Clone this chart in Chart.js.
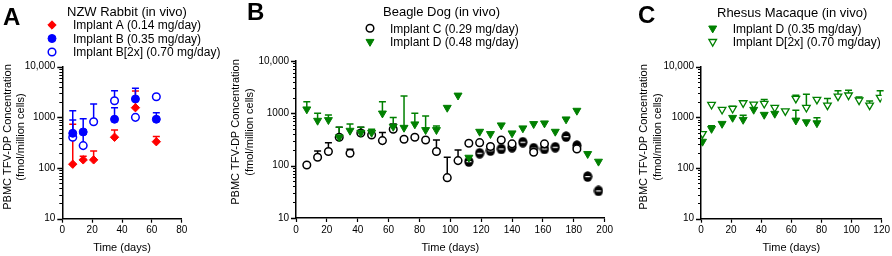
<!DOCTYPE html>
<html>
<head>
<meta charset="utf-8">
<script src="https://cdn.jsdelivr.net/npm/chart.js@4.4.1/dist/chart.umd.min.js"></script>
<style>
html, body { margin: 0; padding: 0; background: #fff; }
#wrap { position: relative; width: 892px; height: 256px; overflow: hidden; }
.panel { position: absolute; top: 0; height: 256px; }
</style>
</head>
<body>
<div id="wrap">
  <div class="panel" style="left:0;width:225px"><canvas id="chartA"></canvas></div>
  <div class="panel" style="left:225px;width:390px"><canvas id="chartB"></canvas></div>
  <div class="panel" style="left:625px;width:267px"><canvas id="chartC"></canvas></div>
</div>
<script>
// ---- Panel A: NZW Rabbit ----
const rabbitDays = [7, 14, 21, 35, 49, 63];
const rabbitA = [119, 145, 145, 405, 1553, 331];
const rabbitAErr = [730, 170, 217, 564, 3300, 417];
const rabbitB = [485, 515, null, 918, 2306, 918];
const rabbitBErr = [1356, 937, null, 1550, 3750, 1240];
const rabbitB2x = [405, 277, 822, 2134, 1000, 2560];
const rabbitB2xErr = [890, 480, 1836, 3365, null, null];

// ---- Panel B: Beagle Dog ----
const dogDays = [7, 14, 21, 28, 35, 42, 49, 56, 63, 70, 77, 84, 91, 98,
                 105, 112, 119, 126, 133, 140, 147, 154, 161, 168, 175, 182, 189, 196];
const dogC = [103, 145, 186, 350, 173, 420, 387, 301, 498, 320, 350, 310, 186, 59,
              125, 268, 275, 232, 310, 261, null, 181, 261, null, null, 209, null, null];
const dogCErr = [null, 191, 275, 540, 206, 540, null, 428, 628, null, null, null, 310, 145,
                 200, null, null, null, null, null, null, null, null, null, null, null, null, null];
// second group of Implant C animals (overlapping circles)
const dogC2 = [null, null, null, null, null, null, null, null, null, null, null, null, null, null,
               null, 120, 173, 194, 209, 225, 281, 216, 209, 225, 359, 242, 62, 33];
const dogD = [1197, 726, 748, 350, 468, 428, 428, 1000, 557, 533, 620, 482, 482, 1285,
              2200, 143, 448, 405, 593, 417, 520, 628, 647, 448, 771, 1128, 168, 120];
const dogDErr = [1670, 1005, 930, 543, 628, 543, 498, 1670, 828, 2150, 1000, 891, 575, null,
                 null, null, null, null, null, null, null, null, null, null, null, null, null, null];

// ---- Panel C: Rhesus Macaque ----
const macDays = [1, 7, 14, 21, 28, 35, 42, 49, 56, 63, 70, 77, 84, 91, 98, 105, 112, 119];
const macD = [333, 596, 750, 986, 900, 1422, 1132, 1186, null, 871, 807, 771,
              null, null, null, null, null, null];
const macDErr = [null, 680, null, null, 1100, null, null, null, null, 1377, null, 986,
                 null, null, null, null, null, null];
const macD2x = [474, 1787, 1422, 1490, 1924, 1811, 1870, 1560, 1333, 2355, 1560, 2250,
                1733, 2613, 2736, 2180, 1733, 2468];
const macD2xErr = [null, null, null, 1650, 2050, null, 2250, null, null, 2736, 2865, null,
                   2355, 3336, 3440, 2535, 2110, 3336];

const yTitleLines = ['PBMC TFV-DP Concentration', '(fmol/million cells)'];
const FONT = 'Arial, "Liberation Sans", sans-serif';
Chart.defaults.font.family = FONT;
Chart.defaults.color = '#000';

const RED = '#ff0000', BLUE = '#0000ff', GREEN = '#008000';

function pts(days, vals) {
    return days.map((d, i) => ({ x: d, y: vals[i] }));
}

// two overlapping open circles look like a black dot with a white slit
function ringPair() {
    const c = document.createElement('canvas');
    c.width = 10; c.height = 11;
    const g = c.getContext('2d');
    g.fillStyle = '#000';
    g.beginPath(); g.ellipse(5, 5.5, 4.6, 5.2, 0, 0, Math.PI * 2); g.fill();
    g.fillStyle = '#fff';
    g.fillRect(2.5, 5, 5, 1.2);
    return c;
}

// upper error bars with caps
const errorBars = {
    id: 'errorBars',
    beforeDatasetsDraw(chart) {
        const ctx = chart.ctx;
        const ys = chart.scales.y;
        chart.data.datasets.forEach((ds, i) => {
            if (!ds.errUp) return;
            const meta = chart.getDatasetMeta(i);
            ctx.save();
            ctx.strokeStyle = ds.borderColor;
            ctx.lineWidth = 1.5;
            meta.data.forEach((pt, j) => {
                const up = ds.errUp[j];
                if (up == null || ds.data[j].y == null) return;
                const yTop = ys.getPixelForValue(up);
                ctx.beginPath();
                ctx.moveTo(pt.x, pt.y);
                ctx.lineTo(pt.x, yTop);
                ctx.moveTo(pt.x - 3.5, yTop);
                ctx.lineTo(pt.x + 3.5, yTop);
                ctx.stroke();
            });
            ctx.restore();
        });
    }
};

// panel letter, title, legend, y-axis title and log tick marks
const panelText = {
    id: 'panelText',
    afterDraw(chart, args, o) {
        const ctx = chart.ctx;
        ctx.save();
        ctx.fillStyle = '#000';
        ctx.textAlign = 'left';
        ctx.textBaseline = 'alphabetic';
        ctx.font = 'bold 24px ' + FONT;
        ctx.fillText(o.letter, o.letterX, o.letterY);
        ctx.font = '13px ' + FONT;
        ctx.fillText(o.title, o.titleX, o.titleY);

        let row = 0;
        chart.data.datasets.forEach(ds => {
            if (!ds.label) return;
            const y = o.legendY + row * o.legendStep;
            ctx.fillStyle = ds.backgroundColor;
            ctx.strokeStyle = ds.borderColor;
            ctx.lineWidth = ds.borderWidth;
            Chart.helpers.drawPoint(ctx, {
                pointStyle: ds.pointStyle,
                rotation: ds.pointRotation || 0,
                radius: ds.pointRadius,
                borderWidth: ds.borderWidth
            }, o.markerX, y);
            ctx.fillStyle = '#000';
            ctx.font = '12px ' + FONT;
            ctx.fillText(ds.label, o.textX, y + 4.3);
            row++;
        });

        ctx.font = '11px ' + FONT;
        ctx.textAlign = 'center';
        ctx.textBaseline = 'middle';
        o.yTitleX.forEach((x, k) => {
            ctx.save();
            ctx.translate(x, o.yTitleY);
            ctx.rotate(-Math.PI / 2);
            ctx.fillText(yTitleLines[k], 0, 0);
            ctx.restore();
        });

        const ys = chart.scales.y;
        const left = chart.chartArea.left;
        ctx.strokeStyle = '#000';
        ctx.lineWidth = 1;
        ys.ticks.forEach(t => {
            const e = Math.floor(Math.log10(t.value) + 1e-9);
            const m = t.value / Math.pow(10, e);
            if (Math.abs(m - Math.round(m)) > 1e-6) return;
            const major = Math.abs(m - 1) < 1e-6;
            const y = Math.round(ys.getPixelForValue(t.value)) + 0.5;
            ctx.lineWidth = major ? 1.5 : 1;
            ctx.beginPath();
            ctx.moveTo(left - (major ? 5 : 3), y);
            ctx.lineTo(left, y);
            ctx.stroke();
        });
        ctx.restore();
    }
};

function makeChart(id, datasets, xMax, box, decor) {
    return new Chart(document.getElementById(id), {
        type: 'scatter',
        data: { datasets: datasets },
        options: {
            responsive: true,
            maintainAspectRatio: false,
            animation: false,
            events: [],
            layout: { padding: { top: box.top, right: box.right, left: 0, bottom: 0 } },
            plugins: {
                legend: { display: false },
                tooltip: { enabled: false },
                panelText: decor
            },
            scales: {
                x: {
                    type: 'linear',
                    min: 0,
                    max: xMax,
                    afterFit: s => { s.height = box.xHeight; },
                    border: { color: '#000', width: 1.5 },
                    grid: { drawOnChartArea: false, tickLength: 4, tickColor: '#000', tickWidth: 1.2 },
                    ticks: { stepSize: 20, autoSkip: false, maxRotation: 0, padding: 2, color: '#000', font: { size: 10 } },
                    title: { display: true, text: 'Time (days)', color: '#000', font: { size: 11 }, padding: { top: 0, bottom: 1 } }
                },
                y: {
                    type: 'logarithmic',
                    min: 10,
                    max: 10000,
                    afterFit: s => { s.width = box.yWidth; },
                    border: { color: '#000', width: 1.5 },
                    grid: { drawOnChartArea: false, drawTicks: false },
                    ticks: {
                        autoSkip: false,
                        padding: 7,
                        color: '#000',
                        font: { size: 10 },
                        callback: v => {
                            if (v === 10000) return '10,000';
                            return [10, 100, 1000].includes(v) ? String(v) : '';
                        }
                    }
                }
            }
        },
        plugins: [errorBars, panelText]
    });
}

const closedDiamond = c => ({ pointStyle: 'rectRot', pointRadius: 4.2, backgroundColor: c, borderColor: c, borderWidth: 1 });
const closedCircle = c => ({ pointStyle: 'circle', pointRadius: 4, backgroundColor: c, borderColor: c, borderWidth: 1 });
const openCircle = c => ({ pointStyle: 'circle', pointRadius: 3.8, backgroundColor: '#fff', borderColor: c, borderWidth: 1.5 });
const closedTri = c => ({ pointStyle: 'triangle', pointRotation: 180, pointRadius: 4.6, backgroundColor: c, borderColor: c, borderWidth: 1 });
const openTri = c => ({ pointStyle: 'triangle', pointRotation: 180, pointRadius: 4.4, backgroundColor: '#fff', borderColor: c, borderWidth: 1.3 });

// A
makeChart('chartA', [
    Object.assign({ label: 'Implant A (0.14 mg/day)', data: pts(rabbitDays, rabbitA), errUp: rabbitAErr }, closedDiamond(RED)),
    Object.assign({ label: 'Implant B (0.35 mg/day)', data: pts(rabbitDays, rabbitB), errUp: rabbitBErr }, closedCircle(BLUE)),
    Object.assign({ label: 'Implant B[2x] (0.70 mg/day)', data: pts(rabbitDays, rabbitB2x), errUp: rabbitB2xErr }, openCircle(BLUE))
], 80, { top: 66.7, right: 43.3, xHeight: 37.3, yWidth: 62.3 }, {
    letter: 'A', letterX: 3, letterY: 25,
    title: 'NZW Rabbit (in vivo)', titleX: 67, titleY: 16,
    markerX: 52, textX: 73, legendY: 25, legendStep: 13.5,
    yTitleX: [7.5, 21], yTitleY: 137
});

// B
makeChart('chartB', [
    Object.assign({ label: 'Implant C (0.29 mg/day)', order: 1, data: pts(dogDays, dogC), errUp: dogCErr }, openCircle('#000')),
    Object.assign({ label: 'Implant D (0.48 mg/day)', order: 0, data: pts(dogDays, dogD), errUp: dogDErr }, closedTri(GREEN)),
    { label: '', order: 2, data: pts(dogDays, dogC2), pointStyle: ringPair(), pointRadius: 5, backgroundColor: '#000', borderColor: '#000', borderWidth: 1 }
], 200, { top: 61, right: 10, xHeight: 38, yWidth: 71 }, {
    letter: 'B', letterX: 22, letterY: 20,
    title: 'Beagle Dog (in vivo)', titleX: 158, titleY: 15.5,
    markerX: 145, textX: 165, legendY: 28.3, legendStep: 13.4,
    yTitleX: [11, 24.5], yTitleY: 132
});

// C
makeChart('chartC', [
    Object.assign({ label: 'Implant D (0.35 mg/day)', data: pts(macDays, macD), errUp: macDErr }, closedTri(GREEN)),
    Object.assign({ label: 'Implant D[2x] (0.70 mg/day)', data: pts(macDays, macD2x), errUp: macD2xErr }, openTri(GREEN))
], 120, { top: 66.7, right: 10.3, xHeight: 37.3, yWidth: 76 }, {
    letter: 'C', letterX: 13, letterY: 23,
    title: 'Rhesus Macaque (in vivo)', titleX: 92, titleY: 16.5,
    markerX: 87.7, textX: 107.7, legendY: 28.3, legendStep: 13.4,
    yTitleX: [19, 32.5], yTitleY: 137
});
</script>
</body>
</html>
